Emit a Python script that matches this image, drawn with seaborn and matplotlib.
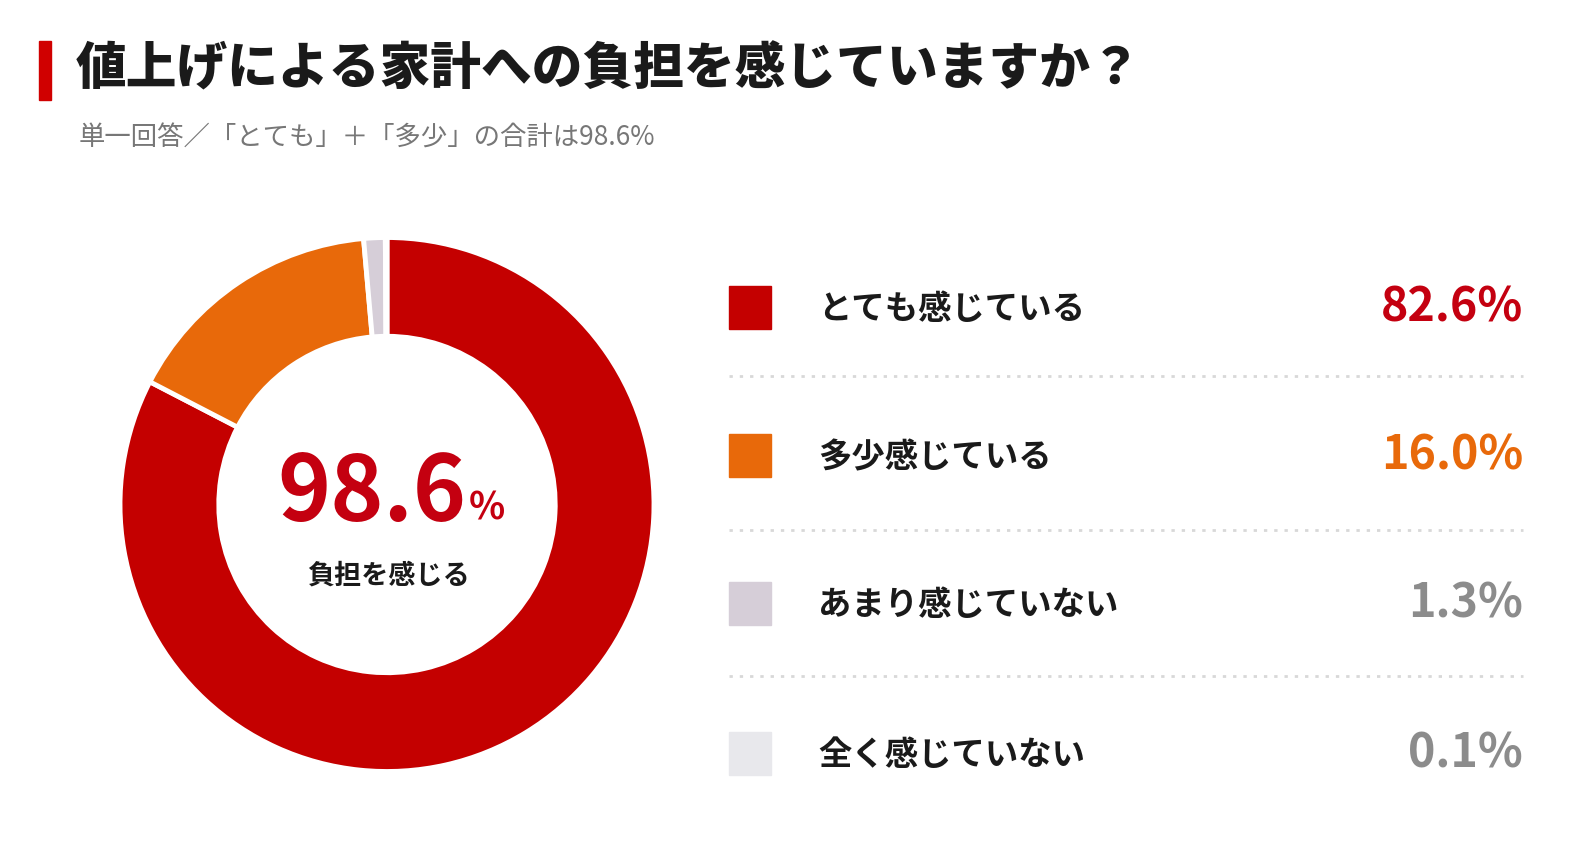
"""
Donut chart: 値上げによる家計への負担を感じていますか？
"""
import seaborn as sns
import matplotlib.pyplot as plt
from matplotlib.patches import Rectangle

# data
categories = ["とても感じている", "多少感じている", "あまり感じていない", "全く感じていない"]
values = [82.6, 16.0, 1.3, 0.1]
value_labels = ["82.6%", "16.0%", "1.3%", "0.1%"]
total_label = "98.6"

slice_colors = ["#C40000", "#E8690A", "#D6CED8", "#E8E8EC"]
value_colors = ["#C40010", "#E8690A", "#8C8C8C", "#8C8C8C"]

sns.set_theme(style="white")
plt.rcParams['font.family'] = ['Noto Sans CJK JP', 'DejaVu Sans']

W, H = 1595, 857
fig = plt.figure(figsize=(W / 100, H / 100), dpi=100)
fig.patch.set_facecolor("white")


def fx(px):
    return px / W


def fy(py):
    return 1 - py / H


# title block
fig.patches.append(Rectangle((fx(39), fy(100)), fx(12), (100 - 41) / H,
                             transform=fig.transFigure, color="#D00000"))
fig.text(fx(76), fy(69), "値上げによる家計への負担を感じていますか？",
         fontsize=36.5, fontweight="black", color="#1A1A1A", va="center", ha="left")
fig.text(fx(79), fy(138), "単一回答／「とても」＋「多少」の合計は98.6%",
         fontsize=19, color="#777777", va="center", ha="left")

# donut
ax = fig.add_axes([fx(120), fy(772), 534 / W, 535 / H])
ax.pie(values, colors=slice_colors, startangle=90, counterclock=False,
       wedgeprops=dict(width=0.37, edgecolor="white", linewidth=3.5))
ax.set_xlim(-1, 1)
ax.set_ylim(-1, 1)
ax.set_aspect("equal")
ax.axis("off")

fig.text(fx(466), fy(521), total_label, fontsize=65, fontweight="bold",
         color="#C40010", ha="right", va="baseline")
fig.text(fx(469), fy(519), "%", fontsize=27, fontweight="bold",
         color="#C40010", ha="left", va="baseline")
fig.text(fx(388), fy(576), "負担を感じる", fontsize=19.5, fontweight="bold",
         color="#1A1A1A", ha="center", va="center")

# legend rows
row_y = [308, 456, 604, 754]
for i, (cat, lab) in enumerate(zip(categories, value_labels)):
    y = row_y[i]
    fig.patches.append(Rectangle((fx(729), fy(y + 21)), fx(42), 43 / H,
                                 transform=fig.transFigure, color=slice_colors[i]))
    fig.text(fx(818), fy(y + 2), cat, fontsize=24, fontweight="bold",
             color="#1A1A1A", ha="left", va="center")
    fig.text(fx(1523), fy(y), lab, fontsize=33.5, fontweight="bold",
             color=value_colors[i], ha="right", va="center")

for y in [376, 530, 676]:
    fig.add_artist(plt.Line2D([fx(729), fx(1523)], [fy(y), fy(y)],
                              transform=fig.transFigure, color="#D8D8D8",
                              linewidth=2, linestyle=(0, (1.2, 2.5))))

fig.savefig("out.png", dpi=100, facecolor="white")
